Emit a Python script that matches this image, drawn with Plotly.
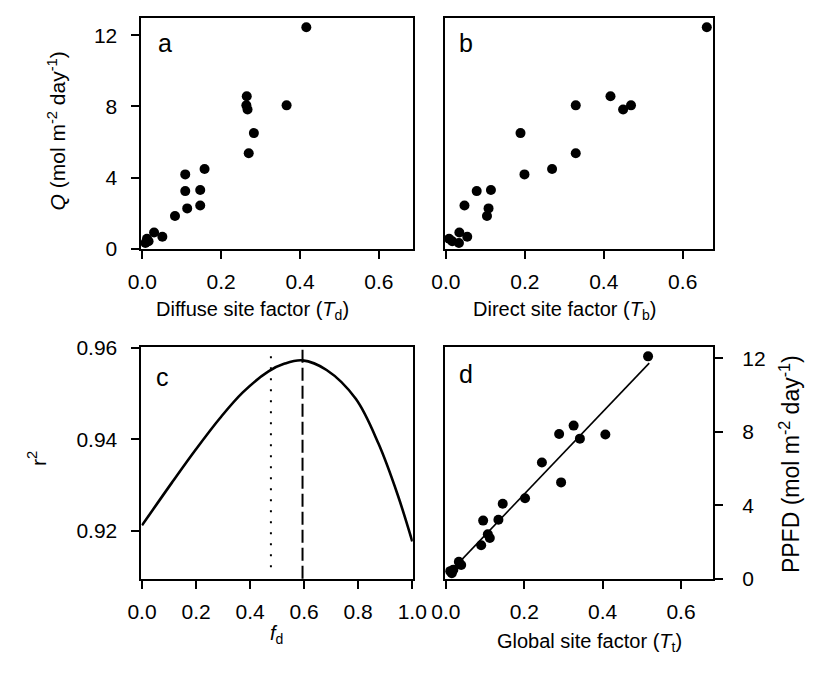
import plotly.graph_objects as go

# ---- site data -------------------------------------------------------------
# measured daily photon flux (mol m-2 day-1) per site
Q = [12.45, 8.57, 8.06, 8.06, 7.83, 6.50, 5.37, 4.48, 4.18, 3.30,
     3.24, 2.43, 2.27, 1.84, 0.92, 0.68, 0.56, 0.42, 0.33]
# diffuse site factor per site
Td = [0.416, 0.265, 0.264, 0.366, 0.267, 0.283, 0.270, 0.158, 0.109, 0.147,
      0.109, 0.147, 0.114, 0.083, 0.030, 0.051, 0.012, 0.016, 0.008]
# direct site factor per site
Tb = [0.661, 0.417, 0.329, 0.469, 0.449, 0.189, 0.329, 0.269, 0.199, 0.114,
      0.078, 0.047, 0.108, 0.104, 0.034, 0.054, 0.008, 0.016, 0.033]
# global site factor and PPFD used in the regression panel
Tt = [0.516, 0.326, 0.289, 0.407, 0.342, 0.245, 0.294, 0.202, 0.145, 0.134,
      0.095, 0.107, 0.112, 0.090, 0.033, 0.039, 0.011, 0.019, 0.015]
ppfd = [12.10, 8.33, 7.87, 7.85, 7.62, 6.32, 5.24, 4.38, 4.08, 3.21,
        3.16, 2.42, 2.21, 1.82, 0.92, 0.74, 0.41, 0.49, 0.30]
# fitted regression line (end points)
fit_Tt = [0.007, 0.519]
fit_ppfd = [0.29, 11.73]

# r^2 of the global-factor regression as a function of the diffuse fraction
fd = [0.0, 0.110, 0.199, 0.289, 0.373, 0.468, 0.528, 0.594, 0.683, 0.791,
      0.875, 0.946, 1.0]
r2 = [0.9212, 0.9305, 0.9378, 0.9447, 0.9503, 0.9549, 0.9566, 0.9573,
      0.9552, 0.9489, 0.9391, 0.9279, 0.9177]
fd_opt = 0.594   # fraction giving the best fit
fd_obs = 0.477   # observed diffuse fraction

site_ticks = [0.0, 0.2, 0.4, 0.6]
site_ticktext = ["0.0", "0.2", "0.4", "0.6"]
q_ticks = [0, 4, 8, 12]
fd_ticks = [0.0, 0.2, 0.4, 0.6, 0.8, 1.0]
fd_ticktext = ["0.0", "0.2", "0.4", "0.6", "0.8", "1.0"]
r2_ticks = [0.92, 0.94, 0.96]
r2_ticktext = ["0.92", "0.94", "0.96"]

# ---- layout helpers --------------------------------------------------------
W, H = 814, 674
FONT = "Arial, Liberation Sans, Helvetica, sans-serif"


def xd(a, b):
    return [a / W, b / W]


def yd(top, bottom):
    return [1 - bottom / H, 1 - top / H]


def px(x):
    return x / W


def py(y):
    return 1 - y / H


LEFT = xd(132, 413)
RIGHT = xd(446.5, 724)
TOP = yd(7, 246)
BOTTOM = yd(347.5, 587)

axis_style = dict(
    showline=True, mirror=True, linecolor="black", linewidth=2,
    ticks="outside", ticklen=8, tickwidth=1.5, tickcolor="black",
    showgrid=False, zeroline=False,
    tickfont=dict(family=FONT, size=21, color="black"),
)
x_style = dict(axis_style, ticklabelstandoff=5)
y_style = dict(axis_style, ticklabelstandoff=10)
yr_style = dict(axis_style, ticklabelstandoff=15)

marker = dict(color="black", size=10, line=dict(width=0))

fig = go.Figure()

fig.add_trace(go.Scatter(x=Td, y=Q, mode="markers", marker=marker,
                         cliponaxis=False, xaxis="x", yaxis="y"))
fig.add_trace(go.Scatter(x=Tb, y=Q, mode="markers", marker=marker,
                         cliponaxis=False, xaxis="x2", yaxis="y2"))
fig.add_trace(go.Scatter(x=fd, y=r2, mode="lines",
                         line=dict(color="black", width=2.6, shape="spline",
                                   smoothing=1.0),
                         xaxis="x3", yaxis="y3"))
fig.add_trace(go.Scatter(x=fit_Tt, y=fit_ppfd, mode="lines",
                         line=dict(color="black", width=1.6),
                         xaxis="x4", yaxis="y4"))
fig.add_trace(go.Scatter(x=Tt, y=ppfd, mode="markers", marker=marker,
                         cliponaxis=False, xaxis="x4", yaxis="y4"))

# reference lines in panel c
fig.add_shape(type="line", xref="x3", yref="y3 domain",
              x0=fd_opt, x1=fd_opt, y0=0, y1=1,
              line=dict(color="black", width=2, dash="13px,5px"))
fig.add_shape(type="line", xref="x3", yref="y3 domain",
              x0=fd_obs, x1=fd_obs, y0=0.05, y1=1,
              line=dict(color="black", width=2, dash="2px,9px"))

fig.update_layout(
    width=W, height=H,
    margin=dict(l=0, r=0, t=0, b=0),
    paper_bgcolor="white", plot_bgcolor="white",
    showlegend=False,
    font=dict(family=FONT, color="black"),
    xaxis=dict(domain=LEFT, anchor="y", range=[-0.002, 0.686],
               tickvals=site_ticks, ticktext=site_ticktext, **x_style),
    yaxis=dict(domain=TOP, anchor="x", range=[-0.01, 12.98],
               tickvals=q_ticks, **y_style),
    xaxis2=dict(domain=RIGHT, anchor="y2", range=[-0.002, 0.677],
                tickvals=site_ticks, ticktext=site_ticktext, **x_style),
    yaxis2=dict(domain=TOP, anchor="x2", range=[-0.01, 12.98],
                tickvals=q_ticks, showticklabels=False,
                **dict(y_style, ticks="")),
    xaxis3=dict(domain=LEFT, anchor="y3", range=[-0.002, 1.002],
                tickvals=fd_ticks, ticktext=fd_ticktext, **x_style),
    yaxis3=dict(domain=BOTTOM, anchor="x3", range=[0.9095, 0.9602],
                tickvals=r2_ticks, ticktext=r2_ticktext, **y_style),
    xaxis4=dict(domain=RIGHT, anchor="y4", range=[-0.002, 0.682],
                tickvals=site_ticks, ticktext=site_ticktext, **x_style),
    yaxis4=dict(domain=BOTTOM, anchor="x4", side="right", range=[-0.01, 12.6],
                tickvals=q_ticks, **yr_style),
)


def title(text, x, y, size=20, angle=0):
    return dict(text=text, x=px(x), y=py(y), xref="paper", yref="paper",
                showarrow=False, xanchor="center", yanchor="middle",
                textangle=angle, font=dict(family=FONT, size=size, color="black"))


annotations = [
    title("Diffuse site factor (<i>T</i><sub>d</sub>)", 247, 310),
    title("Direct site factor (<i>T</i><sub>b</sub>)", 570, 310),
    title("<i>f</i><sub>d</sub>", 272, 645),
    title("Global site factor (<i>T</i><sub>t</sub>)", 596, 653),
    title("<i>Q</i> (mol m<sup>-2</sup> day<sup>-1</sup>)", 44, 124, 21, -90),
    title("r<sup>2</sup>", 24, 463, 21, -90),
    title("PPFD (mol m<sup>-2</sup> day<sup>-1</sup>)", 803, 468, 23, -90),
]

letter_font = dict(family=FONT, size=25, color="black")
letters = [("a", "x", "y", 0.085, 0.89), ("b", "x2", "y2", 0.077, 0.89),
           ("c", "x3", "y3", 0.077, 0.872), ("d", "x4", "y4", 0.077, 0.885)]
for t, xa, ya, lx, ly in letters:
    annotations.append(dict(text=t, xref=f"{xa} domain", yref=f"{ya} domain",
                            x=lx, y=ly, showarrow=False, xanchor="center",
                            yanchor="middle", font=letter_font))

fig.update_layout(annotations=annotations)

fig.write_html("out.html")
